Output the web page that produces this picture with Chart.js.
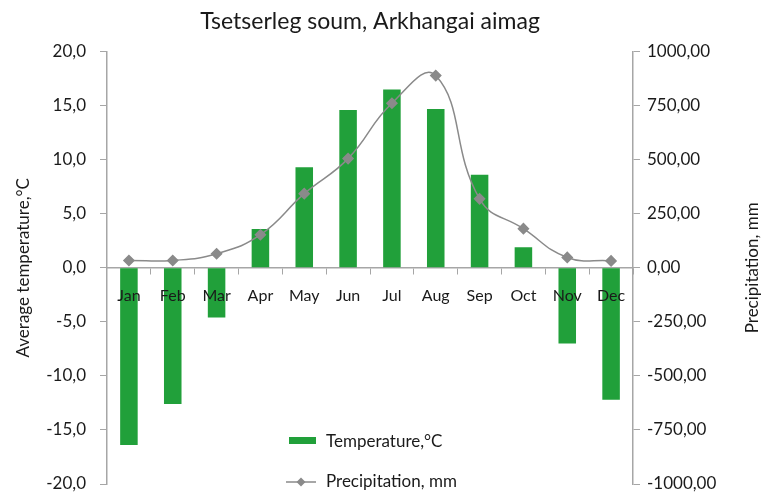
<!DOCTYPE html>
<html>
<head>
<meta charset="utf-8">
<script src="https://cdn.jsdelivr.net/npm/chart.js@4/dist/chart.umd.min.js"></script>
<style>
  html, body { margin: 0; padding: 0; background: #fff; }
  #wrap { width: 762px; height: 497px; }
</style>
</head>
<body>
<div id="wrap"><canvas id="c" width="762" height="497"></canvas></div>
<script>
// Monthly climate normals for Tsetserleg soum
const months = ['Jan', 'Feb', 'Mar', 'Apr', 'May', 'Jun', 'Jul', 'Aug', 'Sep', 'Oct', 'Nov', 'Dec'];
const temperature = [-16.4, -12.6, -4.6, 3.6, 9.3, 14.6, 16.5, 14.7, 8.6, 1.9, -7.0, -12.2];
const precipitation = [34, 34, 65, 153, 343, 505, 761, 889, 319, 181, 48, 32];

const FONT = 'Lato, "Open Sans", sans-serif';
const TEXT = '#1a1a1a';
const AXIS = '#a6a6a6';
const GREEN = 'rgb(33,160,58)';
const GREY = '#8a8a8a';
const RIGHT_TITLE = 'Precipitation, mm';

const commaFixed = (v, d) => Number(v).toFixed(d).replace('.', ',');

// Fixed axis widths; vertical room is set by layout padding alone
const fixAxis = width => s => {
  s.width = width;
  s.paddingTop = 0;
  s.paddingBottom = 0;
};

// Legend inside the lower part of the plot area, plus the right axis title
// (which reads bottom-to-top like the left one)
const extras = {
  id: 'extras',
  afterDraw(chart) {
    const ctx = chart.ctx;
    const ds = chart.data.datasets;
    const area = chart.chartArea;
    ctx.save();
    ctx.font = '17px ' + FONT;
    ctx.textBaseline = 'middle';
    // bar entry
    ctx.fillStyle = ds[1].backgroundColor;
    ctx.fillRect(289, 437, 27, 7);
    ctx.fillStyle = TEXT;
    ctx.fillText(ds[1].label, 326, 442);
    // line entry
    ctx.strokeStyle = ds[0].borderColor;
    ctx.lineWidth = 1.5;
    ctx.beginPath();
    ctx.moveTo(286, 482);
    ctx.lineTo(316, 482);
    ctx.stroke();
    ctx.fillStyle = ds[0].pointBackgroundColor;
    ctx.beginPath();
    ctx.moveTo(301, 477.5);
    ctx.lineTo(305.5, 482);
    ctx.lineTo(301, 486.5);
    ctx.lineTo(296.5, 482);
    ctx.closePath();
    ctx.fill();
    ctx.fillStyle = TEXT;
    ctx.fillText(ds[0].label, 326, 482);
    // right axis title
    ctx.translate(753, (area.top + area.bottom) / 2);
    ctx.rotate(-Math.PI / 2);
    ctx.textAlign = 'center';
    ctx.fillText(RIGHT_TITLE, 0, 0);
    ctx.restore();
  }
};

new Chart(document.getElementById('c'), {
  type: 'bar',
  data: {
    labels: months,
    datasets: [
      {
        type: 'line',
        label: 'Precipitation, mm',
        data: precipitation,
        yAxisID: 'yP',
        borderColor: GREY,
        borderWidth: 1.5,
        pointStyle: 'rectRot',
        pointRadius: 5,
        pointBackgroundColor: GREY,
        pointBorderColor: GREY,
        tension: 0.45,
        order: 0
      },
      {
        type: 'bar',
        label: 'Temperature,°C',
        data: temperature,
        yAxisID: 'yT',
        backgroundColor: GREEN,
        categoryPercentage: 0.8,
        barPercentage: 0.5,
        order: 1
      }
    ]
  },
  options: {
    responsive: false,
    animation: false,
    layout: { padding: { top: 0, bottom: 13, left: 0, right: 0 } },
    plugins: {
      legend: { display: false },
      tooltip: { enabled: false },
      title: {
        display: true,
        fullSize: false,
        text: 'Tsetserleg soum, Arkhangai aimag',
        color: TEXT,
        font: { family: FONT, size: 23, weight: 'normal' },
        padding: { top: 8, bottom: 16 }
      }
    },
    scales: {
      x: {
        position: { yT: 0 },
        grid: { drawOnChartArea: false, drawTicks: true, tickLength: 6, color: AXIS, offset: true },
        border: { display: true, color: AXIS, width: 1.5 },
        ticks: { z: 1, color: TEXT, font: { family: FONT, size: 16 }, padding: 12, maxRotation: 0, autoSkip: false }
      },
      yT: {
        position: 'left',
        min: -20, max: 20,
        ticks: { stepSize: 5, color: TEXT, font: { family: FONT, size: 17 }, padding: 14,
                 callback: v => commaFixed(v, 1) },
        grid: { drawOnChartArea: false, tickLength: 7, color: AXIS },
        border: { display: true, color: AXIS, width: 1.5 },
        title: { display: true, text: 'Average temperature,°C', color: TEXT,
                 font: { family: FONT, size: 17 }, padding: { top: 13, bottom: 4 } },
        afterFit: fixAxis(107)
      },
      yP: {
        position: 'right',
        min: -1000, max: 1000,
        ticks: { stepSize: 250, color: TEXT, font: { family: FONT, size: 17 }, padding: 7,
                 callback: v => commaFixed(v, 2) },
        grid: { drawOnChartArea: false, tickLength: 7, color: AXIS },
        border: { display: true, color: AXIS, width: 1.5 },
        afterFit: fixAxis(129)
      }
    }
  },
  plugins: [extras]
});
</script>
</body>
</html>
